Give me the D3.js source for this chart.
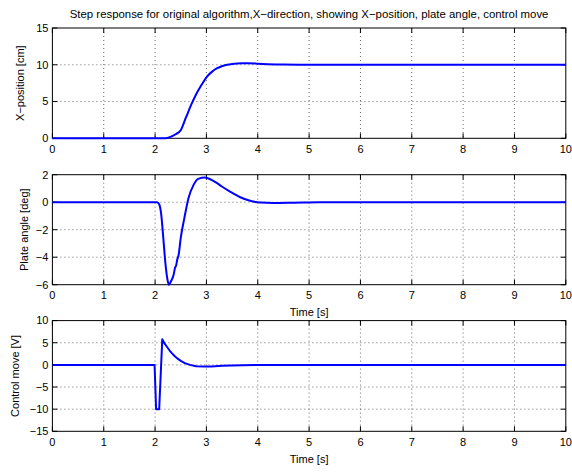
<!DOCTYPE html>
<html>
<head>
    <script src="https://d3js.org/d3.v7.min.js"></script>
    <style>
        body { margin: 0; background: #fff; }
        text { font-family: "Liberation Sans", Arial, sans-serif; font-size: 11px; fill: #000; }
        .title { font-size: 11.4px; }
    </style>
</head>
<body>
    <div id="chart"></div>
    <script>
        // time axis
        var timeTicks = [0, 1, 2, 3, 4, 5, 6, 7, 8, 9, 10];

        // X-position [cm]
        var posTime = [0, 2.2, 2.3, 2.4, 2.5, 2.6, 2.7, 2.8, 2.9, 3.0, 3.1, 3.2, 3.3, 3.4, 3.5, 3.6, 3.7, 3.8, 4.0, 4.2, 4.5, 5.0, 10];
        var posValue = [0, 0, 0.2, 0.55, 1.1, 2.8, 4.5, 6.0, 7.2, 8.3, 9.0, 9.5, 9.8, 10.0, 10.12, 10.18, 10.2, 10.2, 10.15, 10.08, 10.02, 10.0, 10.0];
        var posTicks = [0, 5, 10, 15];

        // Plate angle [deg]
        var angTime = [0, 2.04, 2.08, 2.12, 2.16, 2.2, 2.24, 2.27, 2.31, 2.36, 2.39, 2.41, 2.43, 2.46, 2.5, 2.57, 2.65, 2.75, 2.84, 2.97, 3.1, 3.2, 3.3, 3.46, 3.66, 3.85, 4.05, 4.3, 4.7, 5.2, 10];
        var angValue = [0, 0, -0.15, -0.9, -2.6, -4.4, -5.6, -6.0, -5.75, -5.3, -4.75, -4.6, -4.2, -3.8, -2.6, -1.16, 0.29, 1.26, 1.7, 1.79, 1.62, 1.4, 1.14, 0.77, 0.36, 0.1, -0.03, -0.06, -0.04, -0.01, 0];
        var angTicks = [-6, -4, -2, 0, 2];

        // Control move [V]
        var ctlTime = [0, 1.99, 2.02, 2.08, 2.14, 2.18, 2.23, 2.28, 2.33, 2.38, 2.44, 2.5, 2.58, 2.68, 2.8, 2.95, 3.1, 3.3, 3.5, 3.7, 4.0, 10];
        var ctlValue = [0, 0, -10, -10, 5.8, 4.9, 4.1, 3.3, 2.6, 2.0, 1.4, 0.9, 0.4, 0.0, -0.3, -0.38, -0.35, -0.22, -0.13, -0.06, 0, 0];
        var ctlTicks = [-15, -10, -5, 0, 5, 10];

        var W = 572, H = 473;
        var left = 52.4, right = 565.8;

        var svg = d3.select("#chart").append("svg")
            .attr("width", W)
            .attr("height", H);

        var x = d3.scaleLinear().domain([0, 10]).range([left, right]);

        function fmt(d) { return d < 0 ? "\u2212" + Math.abs(d) : "" + d; }

        function panel(cfg) {
            var y = d3.scaleLinear().domain(cfg.domain).range([cfg.bottom, cfg.top]);
            var g = svg.append("g");

            // grid
            g.selectAll(".gx").data(timeTicks.slice(1, -1)).enter().append("line")
                .attr("x1", function (d) { return x(d); })
                .attr("x2", function (d) { return x(d); })
                .attr("y1", cfg.top).attr("y2", cfg.bottom)
                .attr("stroke", "#444").attr("stroke-width", 0.8)
                .attr("stroke-dasharray", "1,3");
            g.selectAll(".gy").data(cfg.ticks.slice(1, -1)).enter().append("line")
                .attr("x1", left).attr("x2", right)
                .attr("y1", function (d) { return y(d); })
                .attr("y2", function (d) { return y(d); })
                .attr("stroke", "#444").attr("stroke-width", 0.8)
                .attr("stroke-dasharray", "1,3");

            // ticks, inward on all four sides
            var tl = 5;
            timeTicks.forEach(function (d) {
                g.append("line").attr("x1", x(d)).attr("x2", x(d))
                    .attr("y1", cfg.bottom).attr("y2", cfg.bottom - tl).attr("stroke", "#000");
                g.append("line").attr("x1", x(d)).attr("x2", x(d))
                    .attr("y1", cfg.top).attr("y2", cfg.top + tl).attr("stroke", "#000");
            });
            cfg.ticks.forEach(function (d) {
                g.append("line").attr("x1", left).attr("x2", left + tl)
                    .attr("y1", y(d)).attr("y2", y(d)).attr("stroke", "#000");
                g.append("line").attr("x1", right).attr("x2", right - tl)
                    .attr("y1", y(d)).attr("y2", y(d)).attr("stroke", "#000");
            });

            // box
            g.append("rect")
                .attr("x", left).attr("y", cfg.top)
                .attr("width", right - left).attr("height", cfg.bottom - cfg.top)
                .attr("fill", "none").attr("stroke", "#000").attr("stroke-width", 1);

            // tick labels
            g.selectAll(".xl").data(timeTicks).enter().append("text")
                .attr("x", function (d) { return x(d); })
                .attr("y", cfg.bottom + 10.5)
                .attr("dy", "0.35em")
                .attr("text-anchor", "middle")
                .text(fmt);
            g.selectAll(".yl").data(cfg.ticks).enter().append("text")
                .attr("x", left - 4)
                .attr("y", function (d) { return y(d); })
                .attr("dy", "0.35em")
                .attr("text-anchor", "end")
                .text(fmt);

            // y label
            g.append("text")
                .attr("transform", "translate(" + cfg.labelX + "," + ((cfg.top + cfg.bottom) / 2) + ") rotate(-90)")
                .attr("dy", "0.35em")
                .attr("text-anchor", "middle")
                .text(cfg.label);

            if (cfg.timeLabel) {
                g.append("text")
                    .attr("x", (left + right) / 2)
                    .attr("y", cfg.bottom + 27.5)
                    .attr("dy", "0.35em")
                    .attr("text-anchor", "middle")
                    .text("Time [s]");
            }

            // curve
            var pts = cfg.t.map(function (t, i) { return [t, cfg.v[i]]; });
            var line = d3.line()
                .x(function (d) { return x(d[0]); })
                .y(function (d) { return y(d[1]); })
                .curve(cfg.curve);
            g.append("path")
                .datum(pts)
                .attr("d", line)
                .attr("fill", "none")
                .attr("stroke", "#0000ff")
                .attr("stroke-width", 2)
                .attr("stroke-linejoin", "round");
        }

        svg.append("text")
            .attr("class", "title")
            .attr("x", (left + right) / 2)
            .attr("y", 13.7)
            .attr("dy", "0.35em")
            .attr("text-anchor", "middle")
            .text("Step response for original algorithm,X\u2212direction, showing X\u2212position, plate angle, control move");

        panel({ top: 28, bottom: 138.3, domain: [0, 15], ticks: posTicks, t: posTime, v: posValue,
            label: "X\u2212position [cm]", labelX: 20, timeLabel: false, curve: d3.curveMonotoneX });
        panel({ top: 174.7, bottom: 284.7, domain: [-6, 2], ticks: angTicks, t: angTime, v: angValue,
            label: "Plate angle [deg]", labelX: 23.7, timeLabel: true, curve: d3.curveMonotoneX });
        panel({ top: 320.6, bottom: 431.3, domain: [-15, 10], ticks: ctlTicks, t: ctlTime, v: ctlValue,
            label: "Control move [V]", labelX: 15.3, timeLabel: true, curve: d3.curveLinear });
    </script>
</body>
</html>
